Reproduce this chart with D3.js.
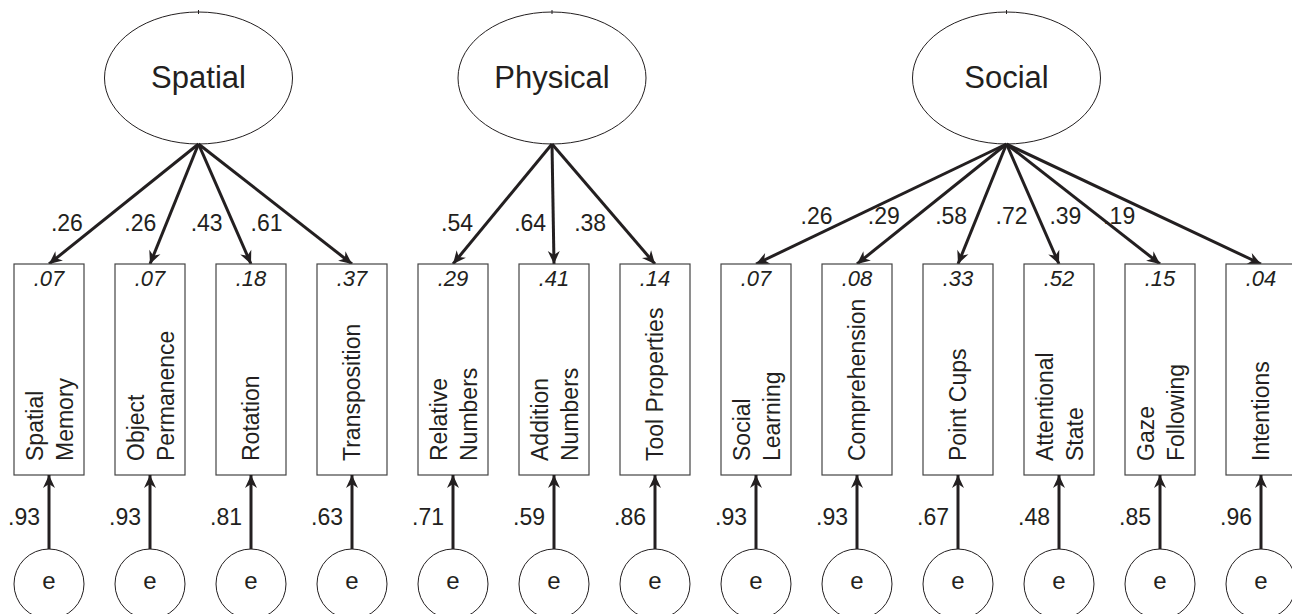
<!DOCTYPE html>
<html>
<head>
<meta charset="utf-8">
<script src="https://cdn.jsdelivr.net/npm/d3@7"></script>
<style>
  html, body { margin: 0; padding: 0; background: #fff; overflow: hidden; }
  text { font-family: "Liberation Sans", Arial, sans-serif; fill: #231f20; }
</style>
</head>
<body>
<div id="chart"></div>
<script>
'use strict';

// latent factors and their observed indicators
const latents = ["Spatial", "Physical", "Social"];
const indicators = [
    ["Spatial", "Memory"], ["Object", "Permanence"], ["Rotation"], ["Transposition"],
    ["Relative", "Numbers"], ["Addition", "Numbers"], ["Tool Properties"],
    ["Social", "Learning"], ["Comprehension"], ["Point Cups"], ["Attentional", "State"],
    ["Gaze", "Following"], ["Intentions"]
];
const indicatorLatent = [0, 0, 0, 0, 1, 1, 1, 2, 2, 2, 2, 2, 2];
const loadings = [.26, .26, .43, .61, .54, .64, .38, .26, .29, .58, .72, .39, .19];
const rSquared = [.07, .07, .18, .37, .29, .41, .14, .07, .08, .33, .52, .15, .04];
const residuals = [.93, .93, .81, .63, .71, .59, .86, .93, .93, .67, .48, .85, .96];

const width = 1292, height = 614;
const ink = "#231f20";

const boxW = 70, boxTop = 264, boxBottom = 475;
const latentY = 78, latentRx = 94, latentRy = 66;
const errY = 584, errR = 35;
const labelT = [0.66, 0.66, 0.6];

const fmt = v => d3.format(".2f")(v).replace(/^0/, "");

const x = d3.scaleLinear()
    .domain([0, indicators.length - 1])
    .range([49, 49 + 101 * (indicators.length - 1)]);

const latentX = latents.map((d, j) =>
    d3.mean(indicators.map((_, i) => i).filter(i => indicatorLatent[i] === j), i => x(i)) - 2);

const svg = d3.select("#chart").append("svg")
    .attr("width", width)
    .attr("height", height);

svg.append("defs").append("marker")
    .attr("id", "head")
    .attr("markerUnits", "userSpaceOnUse")
    .attr("viewBox", "-14 -7 15 14")
    .attr("refX", 0).attr("refY", 0)
    .attr("markerWidth", 15).attr("markerHeight", 14)
    .attr("orient", "auto")
    .append("path")
    .attr("d", "M0,0 L-13,-6 L-9,0 L-13,6 Z")
    .attr("fill", ink);

// latent ellipses
const lat = svg.append("g").selectAll("g")
    .data(latents)
    .join("g")
    .attr("transform", (d, j) => `translate(${latentX[j]},${latentY})`);

lat.append("ellipse")
    .attr("rx", latentRx).attr("ry", latentRy)
    .attr("fill", "none").attr("stroke", ink).attr("stroke-width", 1);

lat.append("line")
    .attr("y1", -latentRy - 2).attr("y2", -latentRy + 2)
    .attr("stroke", ink).attr("stroke-width", 1);

lat.append("text")
    .attr("text-anchor", "middle")
    .attr("y", 10)
    .attr("font-size", 31)
    .text(d => d);

// loading arrows
const idx = indicators.map((_, i) => i);
const ax = i => latentX[indicatorLatent[i]];
const ay = latentY + latentRy;

svg.append("g")
    .selectAll("line")
    .data(idx)
    .join("line")
    .attr("x1", i => ax(i)).attr("y1", ay)
    .attr("x2", i => x(i)).attr("y2", boxTop)
    .attr("stroke", ink).attr("stroke-width", 3)
    .attr("marker-end", "url(#head)");

svg.append("g")
    .selectAll("text")
    .data(idx)
    .join("text")
    .attr("text-anchor", "end")
    .attr("font-size", 23)
    .attr("x", i => {
        const t = labelT[indicatorLatent[i]];
        const slope = Math.abs(x(i) - ax(i)) / (boxTop - ay);
        return ax(i) + (x(i) - ax(i)) * t - (7 + 8 * slope);
    })
    .attr("y", i => ay + (boxTop - ay) * labelT[indicatorLatent[i]] + 8)
    .text(i => fmt(loadings[i]));

// indicator boxes
const box = svg.append("g").selectAll("g")
    .data(idx)
    .join("g")
    .attr("transform", i => `translate(${x(i)},0)`);

box.append("rect")
    .attr("x", -boxW / 2).attr("y", boxTop)
    .attr("width", boxW).attr("height", boxBottom - boxTop)
    .attr("fill", "#fff").attr("stroke", "#444").attr("stroke-width", 1.2);

box.append("text")
    .attr("text-anchor", "middle")
    .attr("y", boxTop + 22)
    .attr("font-size", 22)
    .attr("font-style", "italic")
    .text(i => fmt(rSquared[i]));

box.append("text")
    .attr("font-size", 23)
    .attr("transform", `translate(0,${boxBottom - 14}) rotate(-90)`)
    .selectAll("tspan")
    .data(i => indicators[i].map((s, k, a) => ({s, k, n: a.length})))
    .join("tspan")
    .attr("x", 0)
    .attr("y", d => d.n === 1 ? 8 : (d.k === 0 ? -6 : 24))
    .text(d => d.s);

// error terms
svg.append("g")
    .selectAll("line")
    .data(idx)
    .join("line")
    .attr("x1", i => x(i)).attr("y1", errY - errR)
    .attr("x2", i => x(i)).attr("y2", boxBottom)
    .attr("stroke", ink).attr("stroke-width", 3)
    .attr("marker-end", "url(#head)");

svg.append("g")
    .selectAll("text")
    .data(idx)
    .join("text")
    .attr("text-anchor", "end")
    .attr("font-size", 23)
    .attr("x", i => x(i) - 9)
    .attr("y", 525)
    .text(i => fmt(residuals[i]));

const err = svg.append("g").selectAll("g")
    .data(idx)
    .join("g")
    .attr("transform", i => `translate(${x(i)},${errY})`);

err.append("circle")
    .attr("r", errR)
    .attr("fill", "#fff").attr("stroke", ink).attr("stroke-width", 1);

err.append("text")
    .attr("text-anchor", "middle")
    .attr("y", 5)
    .attr("font-size", 24)
    .text("e");
</script>
</body>
</html>
